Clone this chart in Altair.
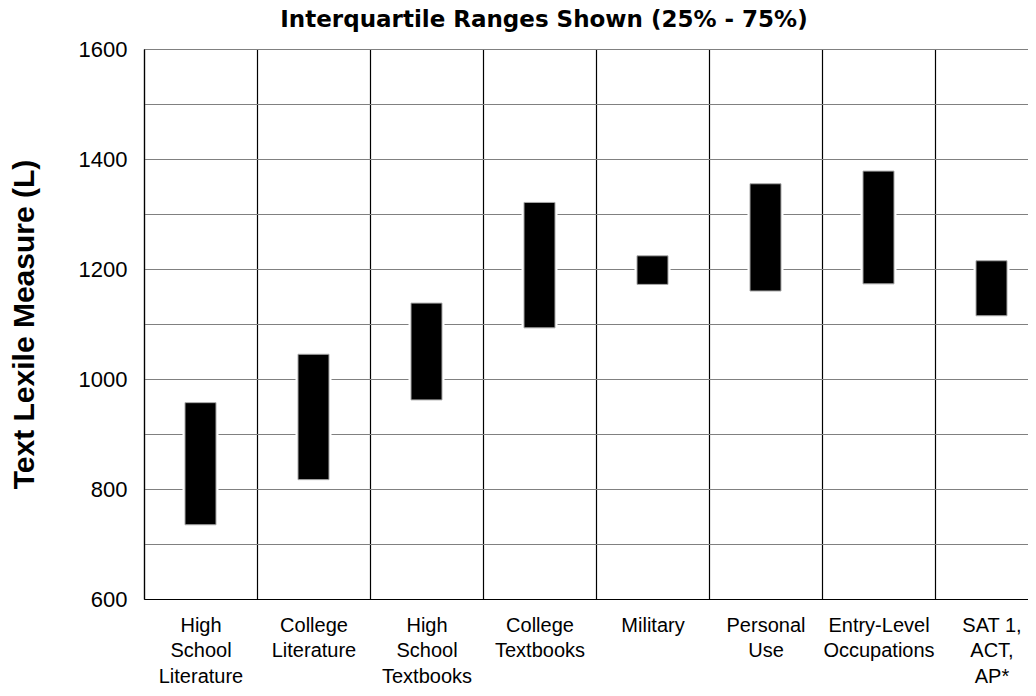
import altair as alt
import pandas as pd

categories = [
    "High School Literature",
    "College Literature",
    "High School Textbooks",
    "College Textbooks",
    "Military",
    "Personal Use",
    "Entry-Level Occupations",
    "SAT 1, ACT, AP*",
]
q25 = [735, 817, 962, 1093, 1172, 1160, 1173, 1115]
q75 = [957, 1045, 1138, 1321, 1224, 1355, 1378, 1215]
y_ticks = list(range(600, 1601, 100))
chart_title = "Interquartile Ranges Shown (25% - 75%)"

df = pd.DataFrame({"category": categories, "q25": q25, "q75": q75})

FONT = "Liberation Sans"
TITLE_FONT = "DejaVu Sans"

x_enc = alt.X(
    "category:N",
    sort=categories,
    title=None,
    scale=alt.Scale(domain=categories, range=[0, 904], paddingInner=0, paddingOuter=0),
    axis=alt.Axis(
        labelAngle=0,
        labelFont=FONT,
        labelFontSize=20,
        labelColor="black",
        labelPadding=16,
        labelLineHeight=25.5,
        labelBaseline="top",
        labelLimit=300,
        labelOverlap=False,
        labelExpr="datum.label == 'SAT 1, ACT, AP*' ? ['SAT 1,', 'ACT,', 'AP*'] : split(datum.label, ' ')",
        ticks=False,
        tickSize=0,
        tickBand="extent",
        grid=True,
        gridColor="black",
        gridWidth=1.2,
        domainColor="black",
        domainWidth=1.2,
    ),
)

y_enc = alt.Y(
    "q25:Q",
    scale=alt.Scale(domain=[600, 1600], nice=False, zero=False),
    axis=alt.Axis(
        values=y_ticks,
        format="d",
        labelExpr="datum.value % 200 === 0 ? datum.label : ''",
        labelFont=FONT,
        labelFontSize=22,
        labelColor="black",
        labelPadding=17,
        ticks=False,
        tickSize=0,
        grid=True,
        gridColor="#808080",
        gridWidth=1.2,
        domainColor="black",
        domainWidth=1.2,
        title="Text Lexile Measure (L)",
        titleFont=FONT,
        titleFontSize=30,
        titleFontWeight="bold",
        titleColor="black",
        titleAngle=270,
        titleAlign="center",
        titleBaseline="alphabetic",
        titleX=-111,
        titleY=275,
    ),
)

base = alt.Chart(df).encode(x=x_enc, y=y_enc, y2="q75:Q")

halo = base.mark_bar(size=33, color="white", stroke="white", strokeWidth=3)
bars = base.mark_bar(size=31, color="black", stroke="#a8a8a8", strokeWidth=1)

chart = (
    alt.layer(halo, bars)
    .properties(
        width=884,
        height=550,
        title=alt.TitleParams(
            text=chart_title,
            font=TITLE_FONT,
            fontSize=23,
            fontWeight="bold",
            color="black",
            anchor="middle",
            dx=-42,
            offset=6,
        ),
        autosize=alt.AutoSizeParams(type="none"),
        padding={"left": 136, "top": 41, "right": 0, "bottom": 88},
    )
    .configure_view(stroke=None)
    .configure(background="white")
)

chart.save("out.html", embed_options={"renderer": "svg", "actions": False})
